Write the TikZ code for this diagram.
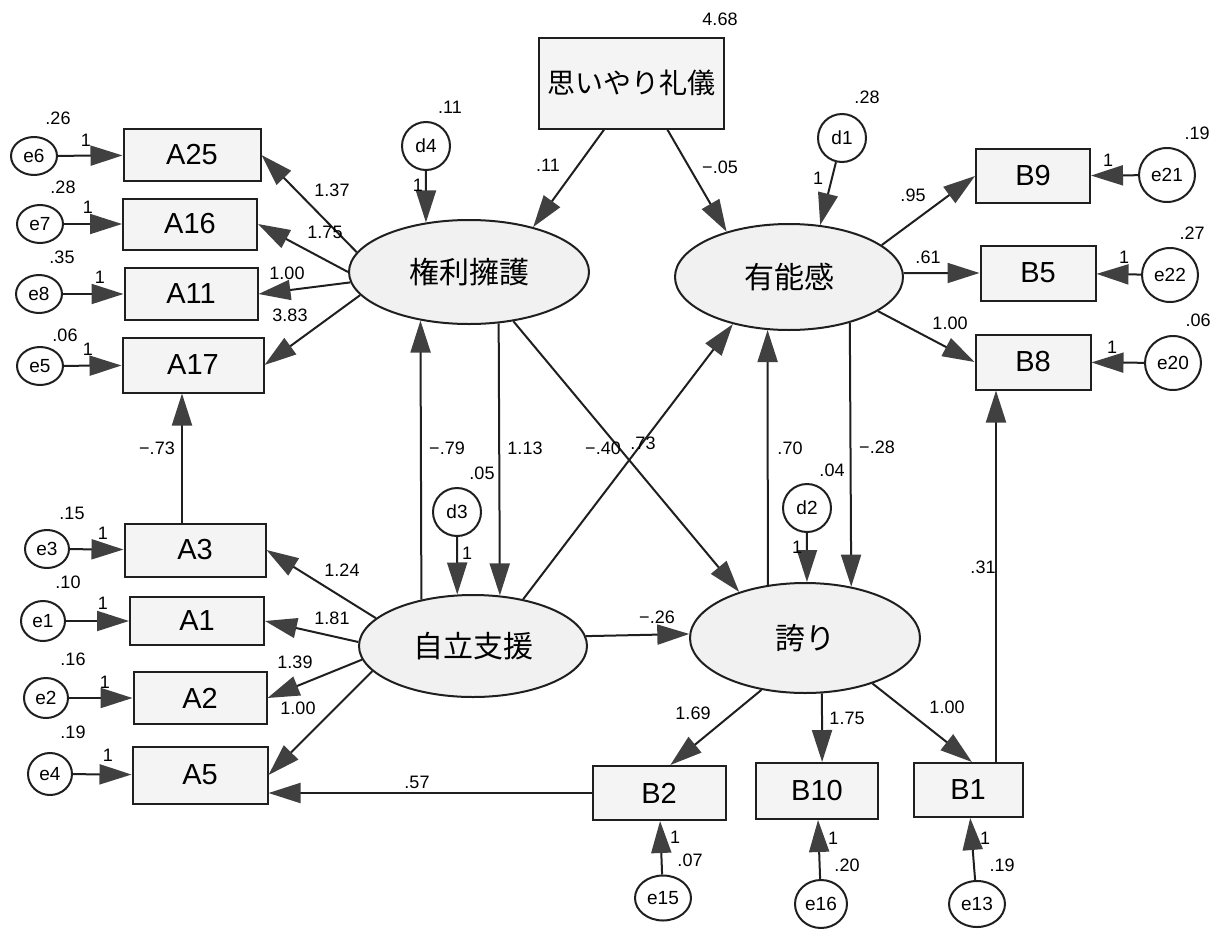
\documentclass[tikz,border=0pt]{standalone}
\usepackage{fontspec}
\setmainfont{Liberation Sans}
\newfontfamily\jpfont{Noto Sans CJK JP}
\usetikzlibrary{shapes.geometric, arrows.meta, positioning}
\definecolor{boxgray}{HTML}{F4F4F4}
\definecolor{ellgray}{HTML}{F1F1F1}
\definecolor{tipgray}{HTML}{404040}
\definecolor{linegray}{HTML}{1F1F1F}

\begin{document}
\begin{tikzpicture}[x=1pt, y=-1pt,
    obs/.style={draw=linegray, line width=2pt, fill=boxgray, rectangle, inner sep=0pt, font=\fontsize{29}{32}\selectfont},
    lat/.style={draw=linegray, line width=2pt, fill=ellgray, ellipse, inner sep=0pt, font=\jpfont\fontsize{30}{32}\selectfont},
    err/.style={draw=linegray, line width=2pt, fill=white, ellipse, inner sep=0pt, font=\fontsize{19}{21}\selectfont},
    num/.style={inner sep=0pt, font=\fontsize{18}{20}\selectfont},
    arrow/.style={draw=linegray, line width=2pt, -{Triangle[length=32pt, width=20pt, fill=tipgray, color=tipgray]}}
]
    \useasboundingbox (0,0) rectangle (1221,929);

    % Exogenous variable
    \node[obs, minimum width=185pt, minimum height=91pt, font=\jpfont\fontsize{28}{30}\selectfont] (omoi) at (631,83) {思いやり礼儀};
    \node[num] (v468) at (720,19) {4.68};

    % Latent factors
    \node[lat, minimum width=240pt, minimum height=104pt] (kenri) at (469,272) {権利擁護};
    \node[lat, minimum width=228pt, minimum height=106pt] (yuno) at (789,277) {有能感};
    \node[lat, minimum width=228pt, minimum height=102pt] (jiritsu) at (473,646) {自立支援};
    \node[lat, minimum width=230pt, minimum height=110pt] (hokori) at (805,638) {誇り};

    % Disturbances
    \node[err, minimum width=48pt, minimum height=48pt] (d4) at (426,146) {d4};
    \node[err, minimum width=48pt, minimum height=48pt] (d1) at (842,138) {d1};
    \node[err, minimum width=48pt, minimum height=48pt] (d3) at (457,512) {d3};
    \node[err, minimum width=48pt, minimum height=48pt] (d2) at (807,508) {d2};

    % Indicators (left)
    \node[obs, minimum width=137pt, minimum height=52pt] (A25) at (192,155) {A25};
    \node[obs, minimum width=134pt, minimum height=51pt] (A16) at (190,224) {A16};
    \node[obs, minimum width=133pt, minimum height=52pt] (A11) at (191,294) {A11};
    \node[obs, minimum width=141pt, minimum height=55pt] (A17) at (193,365) {A17};
    \node[obs, minimum width=141pt, minimum height=53pt] (A3) at (195,550) {A3};
    \node[obs, minimum width=134pt, minimum height=48pt] (A1) at (197,621) {A1};
    \node[obs, minimum width=133pt, minimum height=52pt] (A2) at (200,698) {A2};
    \node[obs, minimum width=135pt, minimum height=57pt] (A5) at (200,775) {A5};

    % Indicators (right and bottom)
    \node[obs, minimum width=114pt, minimum height=54pt] (B9) at (1033,176) {B9};
    \node[obs, minimum width=115pt, minimum height=55pt] (B5) at (1038,273) {B5};
    \node[obs, minimum width=115pt, minimum height=55pt] (B8) at (1033,362) {B8};
    \node[obs, minimum width=133pt, minimum height=54pt] (B2) at (659,793) {B2};
    \node[obs, minimum width=122pt, minimum height=56pt] (B10) at (817,791) {B10};
    \node[obs, minimum width=109pt, minimum height=54pt] (B1) at (968,790) {B1};

    % Error terms
    \node[err, minimum width=46pt, minimum height=38pt] (e6) at (34,156) {e6};
    \node[err, minimum width=46pt, minimum height=38pt] (e7) at (40,224) {e7};
    \node[err, minimum width=46pt, minimum height=38pt] (e8) at (39,294) {e8};
    \node[err, minimum width=46pt, minimum height=38pt] (e5) at (40,366) {e5};
    \node[err, minimum width=44pt, minimum height=38pt] (e3) at (47,549) {e3};
    \node[err, minimum width=44pt, minimum height=40pt] (e1) at (43,621) {e1};
    \node[err, minimum width=44pt, minimum height=40pt] (e2) at (46,698) {e2};
    \node[err, minimum width=44pt, minimum height=42pt] (e4) at (50,774) {e4};
    \node[err, minimum width=56pt, minimum height=54pt] (e21) at (1167,175) {e21};
    \node[err, minimum width=56pt, minimum height=54pt] (e22) at (1170,275) {e22};
    \node[err, minimum width=56pt, minimum height=54pt] (e20) at (1173,363) {e20};
    \node[err, minimum width=56pt, minimum height=45pt] (e15) at (663,898) {e15};
    \node[err, minimum width=52pt, minimum height=48pt] (e16) at (821,904) {e16};
    \node[err, minimum width=56pt, minimum height=46pt] (e13) at (977,904) {e13};

    % Structural paths
    \draw[arrow] (omoi.240) -- (kenri.35);
    \draw[arrow] (omoi.308) -- (yuno.144);
    \draw[arrow] (kenri.300.8) -- (jiritsu.62.4);
    \draw[arrow] (jiritsu.138.2) -- (kenri.225.5);
    \draw[arrow] (kenri.312.3) -- (hokori.145.1);
    \draw[arrow] (jiritsu.43.2) -- (yuno.220.9);
    \draw[arrow] (yuno.323.7) -- (hokori.48.4);
    \draw[arrow] (hokori.125.4) -- (yuno.248);
    \draw[arrow] (jiritsu.5.6) -- (hokori.178.5);

    % Measurement paths
    \draw[arrow] (kenri.170.5) -- (A25.east);
    \draw[arrow] (kenri.180) -- (A16.east);
    \draw[arrow] (kenri.185) -- (A11.east);
    \draw[arrow] (kenri.192.7) -- (A17.east);
    \draw[arrow] (jiritsu.164.8) -- (A3.east);
    \draw[arrow] (jiritsu.178.5) -- (A1.east);
    \draw[arrow] (jiritsu.187.1) -- (A2.east);
    \draw[arrow] (jiritsu.194.6) -- (A5.east);
    \draw[arrow] (yuno.19.5) -- (B9.west);
    \draw[arrow] (yuno.2) -- (B5.west);
    \draw[arrow] (yuno.339.4) -- (B8.west);
    \draw[arrow] (hokori.230.2) -- (B2.68);
    \draw[arrow] (hokori.287.4) -- (B10.80);
    \draw[arrow] (hokori.326.1) -- (B1.82);
    \draw[arrow] ([xshift=-13pt]A3.north) -- ([xshift=-13pt]A3.north |- A17.south);
    \draw[arrow] (B1.45) -- (B1.45 |- B8.south);
    \draw[arrow] (B2.west) -- (B2.west -| A5.east);

    % Error and disturbance paths
    \draw[arrow] (d4) -- (kenri.131.6);
    \draw[arrow] (d1) -- (yuno.59.6);
    \draw[arrow] (d3) -- (jiritsu.107.6);
    \draw[arrow] (d2) -- (hokori.88);
    \draw[arrow] (e6) -- (A25);
    \draw[arrow] (e7) -- (A16);
    \draw[arrow] (e8) -- (A11);
    \draw[arrow] (e5) -- (A17);
    \draw[arrow] (e3) -- (A3);
    \draw[arrow] (e1) -- (A1);
    \draw[arrow] (e2) -- (A2);
    \draw[arrow] (e4) -- (A5);
    \draw[arrow] (e21) -- (B9);
    \draw[arrow] (e22) -- (B5);
    \draw[arrow] (e20) -- (B8);
    \draw[arrow] (e15) -- (B2);
    \draw[arrow] (e16) -- (B10);
    \draw[arrow] (e13) -- (B1);

    % Path coefficients
    \node[num] (w11) at (548,165) {.11};
    \node[num] (w05) at (720,167) {−.05};
    \node[num] (w137) at (332,190) {1.37};
    \node[num] (w175) at (325,232) {1.75};
    \node[num] (w100a) at (287,273) {1.00};
    \node[num] (w383) at (290,315) {3.83};
    \node[num] (w73n) at (157,448) {−.73};
    \node[num] (w124) at (342,570) {1.24};
    \node[num] (w181) at (332,618) {1.81};
    \node[num] (w139) at (295,662) {1.39};
    \node[num] (w100b) at (298,708) {1.00};
    \node[num] (w57) at (417,782) {.57};
    \node[num] (w79) at (447,448) {−.79};
    \node[num] (w113) at (525,448) {1.13};
    \node[num] (w40) at (603,448) {−.40};
    \node[num] (w73) at (643,443) {.73};
    \node[num] (w70) at (790,448) {.70};
    \node[num] (w28) at (877,447) {−.28};
    \node[num] (w26) at (657,617) {−.26};
    \node[num] (w95) at (913,195) {.95};
    \node[num] (w61) at (928,257) {.61};
    \node[num] (w100c) at (950,323) {1.00};
    \node[num] (w31) at (983,567) {.31};
    \node[num] (w169) at (693,713) {1.69};
    \node[num] (w175b) at (847,718) {1.75};
    \node[num] (w100d) at (947,707) {1.00};

    % Variances and fixed loadings
    \node[num] (vd4) at (450,107) {.11};
    \node[num] (fd4) at (418,185) {1};
    \node[num] (vd1) at (867,97) {.28};
    \node[num] (fd1) at (818,178) {1};
    \node[num] (vd3) at (482,473) {.05};
    \node[num] (fd3) at (467,553) {1};
    \node[num] (vd2) at (832,470) {.04};
    \node[num] (fd2) at (797,547) {1};
    \node[num] (ve6) at (58,118) {.26};
    \node[num] (fe6) at (86,140) {1};
    \node[num] (ve7) at (63,187) {.28};
    \node[num] (fe7) at (88,207) {1};
    \node[num] (ve8) at (62,257) {.35};
    \node[num] (fe8) at (100,277) {1};
    \node[num] (ve5) at (65,335) {.06};
    \node[num] (fe5) at (88,349) {1};
    \node[num] (ve3) at (72,513) {.15};
    \node[num] (fe3) at (103,533) {1};
    \node[num] (ve1) at (68,582) {.10};
    \node[num] (fe1) at (103,603) {1};
    \node[num] (ve2) at (73,659) {.16};
    \node[num] (fe2) at (105,682) {1};
    \node[num] (ve4) at (73,732) {.19};
    \node[num] (fe4) at (108,755) {1};
    \node[num] (ve21) at (1197,133) {.19};
    \node[num] (fe21) at (1108,160) {1};
    \node[num] (ve22) at (1192,233) {.27};
    \node[num] (fe22) at (1124,257) {1};
    \node[num] (ve20) at (1198,320) {.06};
    \node[num] (fe20) at (1112,347) {1};
    \node[num] (fe15) at (675,837) {1};
    \node[num] (ve15) at (690,860) {.07};
    \node[num] (fe16) at (833,838) {1};
    \node[num] (ve16) at (847,865) {.20};
    \node[num] (fe13) at (985,838) {1};
    \node[num] (ve13) at (1002,865) {.19};
\end{tikzpicture}
\end{document}
